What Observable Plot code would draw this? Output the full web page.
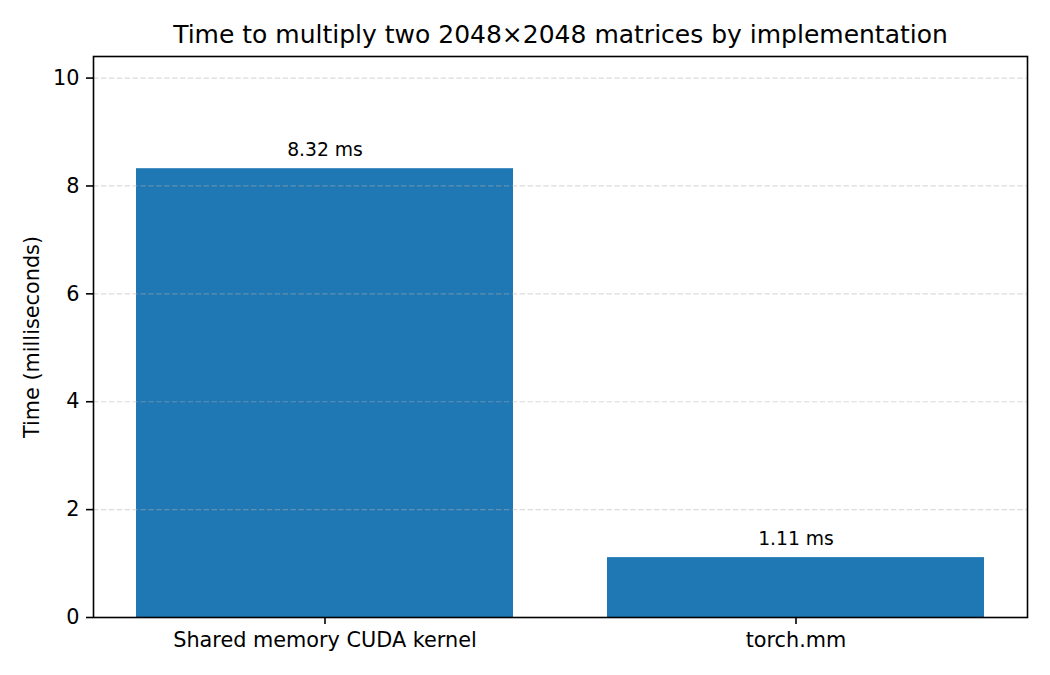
<!DOCTYPE html>
<html><head><meta charset="utf-8">
<script src="https://cdn.jsdelivr.net/npm/d3@7"></script>
<script src="https://cdn.jsdelivr.net/npm/@observablehq/plot@0.6"></script>
<style>body{margin:0;background:#fff;}</style>
</head><body><div id="chart"></div>
<script>
const categories = ["Shared memory CUDA kernel", "torch.mm"];
const times = [8.32, 1.11];
const valueLabels = ["8.32 ms", "1.11 ms"];
const yTicks = [0, 2, 4, 6, 8, 10];
const title = "Time to multiply two 2048×2048 matrices by implementation";
const yLabel = "Time (milliseconds)";

const data = categories.map((c, i) => ({category: c, time: times[i], label: valueLabels[i]}));

const chart = Plot.plot({
  width: 1050, height: 675,
  marginLeft: 93, marginRight: 23, marginTop: 56, marginBottom: 58,
  style: {fontFamily: "DejaVu Sans", fontSize: "20.8px", color: "#000", background: "#fff"},
  x: {domain: categories, paddingInner: 0.2, paddingOuter: 0.09, label: null},
  y: {domain: [0, 10.4], label: null},
  marks: [
    Plot.barY(data, {x: "category", y: "time", fill: "#1f77b4"}),
    Plot.gridY(yTicks, {stroke: "#b0b0b0", strokeOpacity: 0.45, strokeDasharray: "5.5,2.4", strokeWidth: 1.2}),
    Plot.frame({stroke: "#000", strokeWidth: 1.6}),
    Plot.axisY(yTicks, {tickSize: 7, tickPadding: 7, strokeWidth: 1.6, fontSize: 20.8,
      tickFormat: d => String(d),
      label: yLabel, labelAnchor: "center", labelArrow: "none", labelOffset: 69}),
    Plot.axisX({tickSize: 7, tickPadding: 8, strokeWidth: 1.6, fontSize: 20.8, label: null}),
    Plot.text(data, {x: "category", y: "time", text: "label", lineAnchor: "bottom", dy: -13, fontSize: 18.75}),
    Plot.text([title], {frameAnchor: "top", dy: -14, lineAnchor: "bottom", fontSize: 25})
  ]
});
document.getElementById("chart").appendChild(chart);
</script>
</body></html>
